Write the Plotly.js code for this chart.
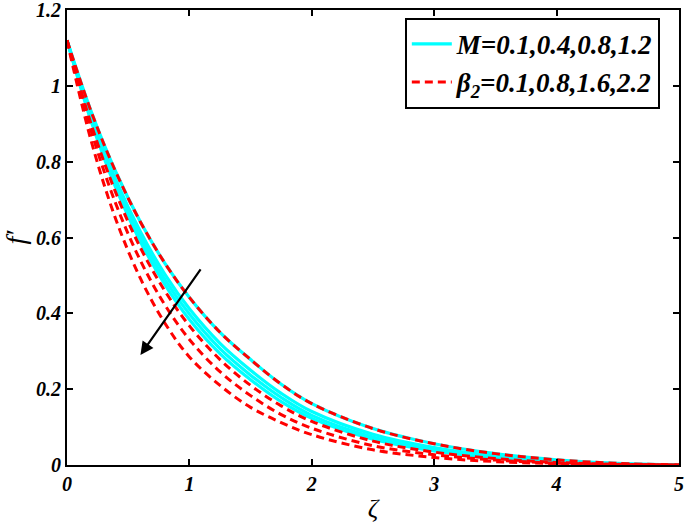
<!DOCTYPE html>
<html>
<head>
<meta charset="utf-8">
<script src="https://cdn.plot.ly/plotly-3.0.1.min.js"></script>
<style>body{margin:0;padding:0;background:#fff;}#chart{width:685px;height:525px;}</style>
</head>
<body>
<div id="chart"></div>
<script>
// zeta grid
var zeta = [0, 0.2, 0.4, 0.6, 0.8, 1.0, 1.25, 1.5, 1.75, 2.0, 2.5, 3.0, 3.5, 4.0, 4.5, 5.0];

// M = 0.1, 0.4, 0.8, 1.2 (solid cyan)
var M_labels = ["0.1", "0.4", "0.8", "1.2"];
var fM_01 = [1.12, 0.930, 0.772, 0.641, 0.532, 0.442, 0.350, 0.278, 0.213, 0.162, 0.096, 0.056, 0.030, 0.0136, 0.0043, 0];
var fM_04 = [1.12, 0.917, 0.751, 0.615, 0.503, 0.412, 0.321, 0.250, 0.189, 0.141, 0.081, 0.046, 0.024, 0.010, 0.003, 0];
var fM_08 = [1.12, 0.911, 0.740, 0.602, 0.489, 0.398, 0.307, 0.237, 0.178, 0.131, 0.074, 0.041, 0.021, 0.0089, 0.0027, 0];
var fM_12 = [1.12, 0.904, 0.730, 0.589, 0.476, 0.384, 0.294, 0.225, 0.167, 0.123, 0.068, 0.037, 0.0185, 0.0077, 0.0023, 0];

// beta2 = 0.1, 0.8, 1.6, 2.2 (dashed red)
var B_labels = ["0.1", "0.8", "1.6", "2.2"];
var fB_01 = [1.12, 0.930, 0.772, 0.641, 0.532, 0.442, 0.350, 0.278, 0.213, 0.162, 0.096, 0.056, 0.030, 0.0136, 0.0043, 0];
var fB_08 = [1.12, 0.896, 0.717, 0.573, 0.459, 0.367, 0.278, 0.210, 0.156, 0.115, 0.063, 0.034, 0.017, 0.0068, 0.0019, 0];
var fB_16 = [1.12, 0.878, 0.688, 0.539, 0.422, 0.331, 0.246, 0.183, 0.133, 0.097, 0.051, 0.027, 0.013, 0.005, 0.0013, 0];
var fB_22 = [1.12, 0.852, 0.647, 0.492, 0.374, 0.285, 0.210, 0.152, 0.112, 0.080, 0.040, 0.020, 0.009, 0.0035, 0.001, 0];

var xTicks = [0, 1, 2, 3, 4, 5];
var xTickText = ["0", "1", "2", "3", "4", "5"];
var yTicks = [0, 0.2, 0.4, 0.6, 0.8, 1, 1.2];
var yTickText = ["0", "0.2", "0.4", "0.6", "0.8", "1", "1.2"];

var legendM = "<b><i>M=0.1,0.4,0.8,1.2</i></b>";
var legendB = "<b><i>β<sub>2</sub>=0.1,0.8,1.6,2.2</i></b>";

var cyan = "#00ffff", red = "#ff0000";
var serif = "Liberation Serif, Times New Roman, serif";

var traces = [];
[fM_01, fM_04, fM_08, fM_12].forEach(function (ys, i) {
  traces.push({
    x: zeta, y: ys, type: "scatter", mode: "lines",
    line: {color: cyan, width: 3.2, shape: "spline", smoothing: 1},
    name: legendM, legendgroup: "M", showlegend: i === 0, hoverinfo: "skip"
  });
});
[fB_01, fB_08, fB_16, fB_22].forEach(function (ys, i) {
  traces.push({
    x: zeta, y: ys, type: "scatter", mode: "lines",
    line: {color: red, width: 3, dash: "8px,5px", shape: "spline", smoothing: 1},
    name: legendB, legendgroup: "B", showlegend: i === 0, hoverinfo: "skip"
  });
});

var layout = {
  width: 685, height: 525,
  margin: {l: 67, r: 6, t: 10, b: 60},
  paper_bgcolor: "#fff", plot_bgcolor: "#fff",
  font: {family: serif, color: "#000"},
  showlegend: true,
  legend: {
    x: 0.552, y: 0.983, xanchor: "left", yanchor: "top",
    bgcolor: "#fff", bordercolor: "#000", borderwidth: 2,
    font: {family: serif, size: 27, color: "#000"},
    tracegroupgap: 0, itemwidth: 40
  },
  xaxis: {
    range: [0, 5], tickvals: xTicks, ticktext: xTickText,
    showgrid: false, zeroline: false,
    showline: true, linecolor: "#000", linewidth: 2, mirror: "ticks",
    ticks: "inside", ticklen: 6, tickwidth: 2, tickcolor: "#000",
    ticklabeloverflow: "allow",
    tickfont: {family: serif, size: 20, color: "#000", weight: "bold", style: "italic"},
    title: {text: "<i>ζ</i>", font: {family: serif, size: 26, color: "#000"}, standoff: 5}
  },
  yaxis: {
    range: [0, 1.2], tickvals: yTicks, ticktext: yTickText,
    showgrid: false, zeroline: false,
    showline: true, linecolor: "#000", linewidth: 2, mirror: "ticks",
    ticks: "inside", ticklen: 6, tickwidth: 2, tickcolor: "#000",
    ticklabeloverflow: "allow",
    tickfont: {family: serif, size: 20, color: "#000", weight: "bold", style: "italic"},
    title: {text: "<i>f′</i>", font: {family: serif, size: 28, color: "#000"}, standoff: 16}
  },
  annotations: [{
    x: 0.60, y: 0.29, ax: 1.10, ay: 0.52,
    xref: "x", yref: "y", axref: "x", ayref: "y",
    showarrow: true, arrowhead: 2, arrowsize: 1.2, arrowwidth: 2.2, arrowcolor: "#000",
    text: ""
  }]
};

Plotly.newPlot("chart", traces, layout, {displayModeBar: false, staticPlot: true});
</script>
</body>
</html>
